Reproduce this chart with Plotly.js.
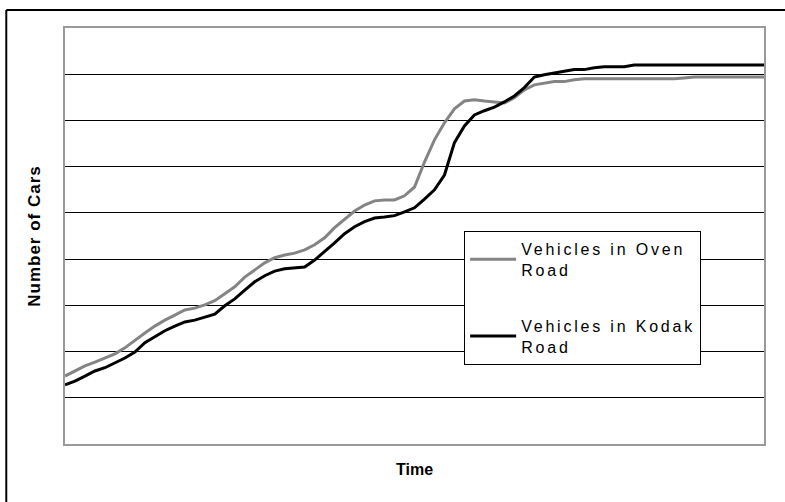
<!DOCTYPE html>
<html>
<head>
<meta charset="utf-8">
<script src="https://cdn.plot.ly/plotly-3.0.1.min.js"></script>
<style>
  html, body { margin: 0; padding: 0; background: #fff; }
  #chart { width: 785px; height: 502px; }
  .legendtext { letter-spacing: 2.8px; }
  .ytitle { letter-spacing: 1px; }
</style>
</head>
<body>
<div id="chart"></div>
<script>
// Time steps (unlabelled axis)
const time = [];
for (let i = 0; i <= 70; i++) time.push(i);

// Vehicles in Oven Road
const ovenRoad = [147,158,169,177,186,195,208,223,240,255,
                  268,279,290,294,301,310,325,340,361,377,
                  392,403,409,413,420,431,446,468,487,504,
                  517,526,528,528,537,556,610,658,695,725,
                  742,745,742,740,738,749,766,777,781,784,
                  784,788,790,790,790,790,790,790,790,790,
                  790,790,792,794,794,794,794,794,794,794,794];

// Vehicles in Kodak Road
const kodakRoad = [128,136,147,158,165,175,186,199,219,232,
                   245,255,264,268,275,281,299,314,333,351,
                   364,374,379,381,383,398,416,435,455,470,
                   481,489,491,494,502,511,530,550,582,652,
                   688,712,721,729,740,753,771,794,799,803,
                   807,810,810,814,816,816,816,820,820,820,
                   820,820,820,820,820,820,820,820,820,820,820];

const seriesNames = ['Vehicles in Oven<br>Road', 'Vehicles in Kodak<br>Road'];

const traces = [
  { x: time, y: ovenRoad, name: seriesNames[0], legendgroup: 'oven', type: 'scatter', mode: 'lines',
    line: { color: '#848484', width: 3 } },
  { x: time, y: kodakRoad, name: seriesNames[1], legendgroup: 'kodak', type: 'scatter', mode: 'lines',
    line: { color: '#000000', width: 3 } }
];

const layout = {
  width: 785, height: 502,
  margin: { l: 65, r: 21, t: 28, b: 58 },
  paper_bgcolor: '#ffffff', plot_bgcolor: '#ffffff',
  font: { family: 'Liberation Sans, Arial, sans-serif', color: '#000' },
  showlegend: true,
  legend: {
    x: 0.571, y: 0.512, xanchor: 'left', yanchor: 'top',
    bgcolor: '#ffffff', bordercolor: '#000000', borderwidth: 1,
    font: { size: 16, family: 'Liberation Sans, Arial, sans-serif', color: '#000' },
    traceorder: 'grouped', tracegroupgap: 32,
    itemwidth: 46
  },
  xaxis: {
    range: [0, 70], showticklabels: false, ticks: '', showgrid: false, zeroline: false,
    showline: true, linecolor: '#9a9a9a', linewidth: 2, mirror: true,
    title: { text: '<b>Time</b>', font: { size: 16 }, standoff: 19 }
  },
  yaxis: {
    range: [0, 900], dtick: 100, tick0: 0, showticklabels: false, ticks: '',
    showgrid: true, gridcolor: '#000000', gridwidth: 1, zeroline: false,
    showline: true, linecolor: '#9a9a9a', linewidth: 2, mirror: true,
    title: { text: '<b>Number of Cars</b>', font: { size: 17 }, standoff: 18 }
  },
  shapes: [
    { type: 'line', xref: 'paper', yref: 'paper', x0: -0.0840, x1: -0.0840, y0: -0.3, y1: 1.0433,
      line: { color: '#000', width: 2 } },
    { type: 'line', xref: 'paper', yref: 'paper', x0: -0.0840, x1: 1.1, y0: 1.0433, y1: 1.0433,
      line: { color: '#000', width: 2 } }
  ]
};

Plotly.newPlot('chart', traces, layout, { displayModeBar: false, staticPlot: true });
</script>
</body>
</html>
